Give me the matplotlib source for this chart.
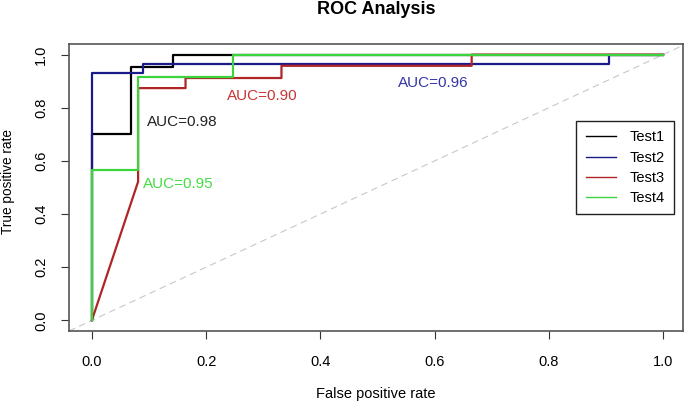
import matplotlib
matplotlib.use("Agg")
import matplotlib.pyplot as plt

plt.rcParams['font.family'] = ['Liberation Sans', 'DejaVu Sans']

# ROC curve points
test1_fpr = [0, 0, 0.069, 0.069, 0.142, 0.142, 1.0]
test1_tpr = [0, 0.70, 0.70, 0.953, 0.953, 1.0, 1.0]
test2_fpr = [0, 0, 0.089, 0.089, 0.906, 0.906, 1.0]
test2_tpr = [0, 0.929, 0.929, 0.964, 0.964, 1.0, 1.0]
test3_fpr = [0, 0.081, 0.081, 0.164, 0.164, 0.332, 0.332, 0.665, 0.665, 1.0]
test3_tpr = [0, 0.522, 0.874, 0.874, 0.912, 0.912, 0.958, 0.958, 1.0, 1.0]
test4_fpr = [0, 0, 0.081, 0.081, 0.247, 0.247, 1.0]
test4_tpr = [0, 0.566, 0.566, 0.914, 0.914, 1.0, 1.0]

labels = ['Test1', 'Test2', 'Test3', 'Test4']
auc_text = ['AUC=0.98', 'AUC=0.96', 'AUC=0.90', 'AUC=0.95']
auc_pos = [(0.096, 0.746), (0.536, 0.895), (0.237, 0.844), (0.090, 0.512)]
ticks = [0.0, 0.2, 0.4, 0.6, 0.8, 1.0]

line_cols = ['#000000', '#1a1a88', '#b02525', '#3cd43c']
text_cols = ['#222222', '#3535a8', '#c83535', '#44dd44']

fig = plt.figure(figsize=(6.85, 4.04), dpi=100)
ax = fig.add_axes([69/685, 1 - 331/404, 614/685, 287/404])

# chance line
ax.axline((0, 0), (1, 1), color='#c8c8c8', lw=0.8, ls=(0, (6, 4)), zorder=1)

curves = [(test1_fpr, test1_tpr), (test2_fpr, test2_tpr),
          (test3_fpr, test3_tpr), (test4_fpr, test4_tpr)]
for (fx, ty), lab, c in zip(curves, labels, line_cols):
    ax.plot(fx, ty, color=c, lw=1.6, label=lab, zorder=2)

for txt, (px, py), c in zip(auc_text, auc_pos, text_cols):
    ax.text(px, py, txt, color=c, fontsize=11, ha='left', va='center')

ax.set_xlim(-0.04, 1.035)
ax.set_ylim(-0.04, 1.04)
ax.set_xticks(ticks)
ax.set_yticks(ticks)
ax.set_xticklabels(['%.1f' % t for t in ticks], fontsize=10.5)
ax.set_yticklabels(['%.1f' % t for t in ticks], fontsize=10.5, rotation=90, va='center')
ax.tick_params(axis='x', length=6, pad=11, color='#333333')
ax.tick_params(axis='y', length=6, pad=9, color='#333333')
for s in ax.spines.values():
    s.set_color('#555555')
    s.set_linewidth(1.2)

leg = ax.legend(loc='upper right', bbox_to_anchor=((674 - 69) / 614, (331 - 121) / 287),
                borderaxespad=0, fancybox=False, edgecolor='#222222', framealpha=1,
                fontsize=10.5, handlelength=2.1, handletextpad=0.9, labelspacing=0.42,
                borderpad=0.65)
leg.get_frame().set_linewidth(1.0)
for h in leg.get_lines():
    h.set_linewidth(1.0)

fig.text(376/685, 1 - 9/404, 'ROC Analysis', fontsize=13, fontweight='bold',
         ha='center', va='center')
fig.text(376/685, 1 - 394/404, 'False positive rate', fontsize=10.5,
         ha='center', va='center')
fig.text(8/685, 1 - 182/404, 'True positive rate', fontsize=9.8,
         ha='center', va='center', rotation=90)

fig.savefig('out.png', dpi=100)
